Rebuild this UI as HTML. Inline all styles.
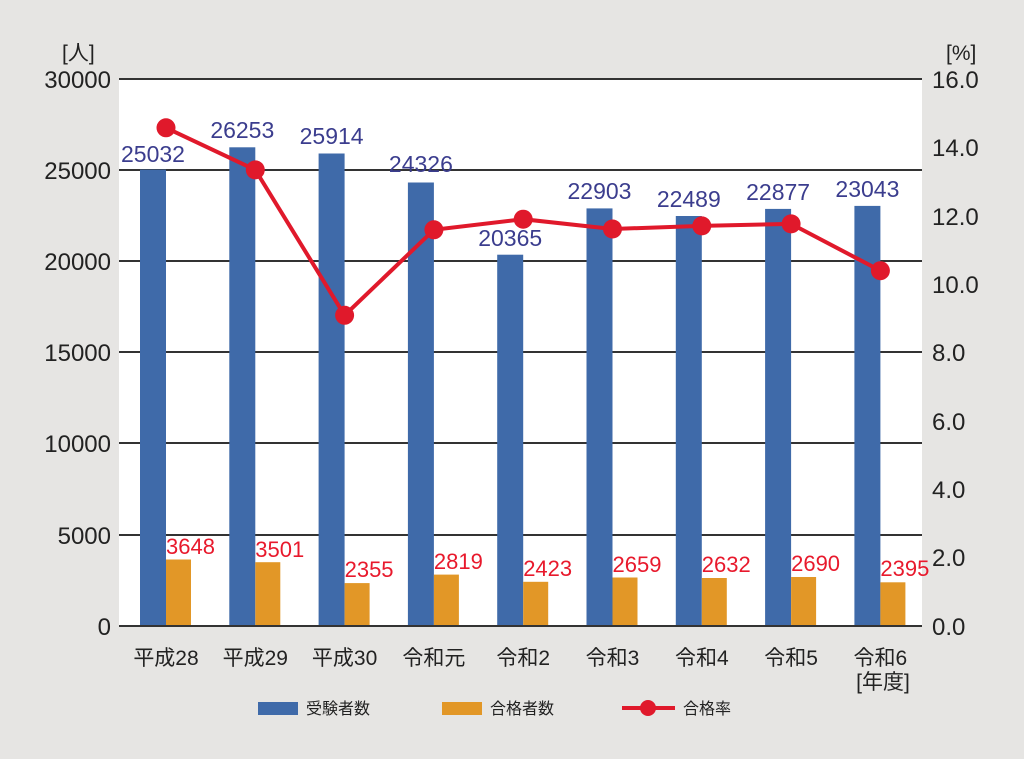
<!DOCTYPE html>
<html><head><meta charset="utf-8"><style>
html,body{margin:0;padding:0;background:#e6e5e3;}
svg{display:block;font-family:"Liberation Sans","Noto Sans CJK JP",sans-serif;}
</style></head><body>
<svg width="1024" height="759" viewBox="0 0 1024 759">
<rect width="1024" height="759" fill="#e6e5e3"/>
<rect x="119" y="79" width="803" height="547" fill="#fff"/>
<g stroke="#333" stroke-width="2">
<line x1="119" x2="922" y1="79" y2="79"/>
<line x1="119" x2="922" y1="170" y2="170"/>
<line x1="119" x2="922" y1="261" y2="261"/>
<line x1="119" x2="922" y1="352" y2="352"/>
<line x1="119" x2="922" y1="443" y2="443"/>
<line x1="119" x2="922" y1="535" y2="535"/>
</g>
<g fill="#3f6aa9">
<rect x="140" y="169.6" width="26" height="456.4"/>
<rect x="229.3" y="147.3" width="26" height="478.7"/>
<rect x="318.6" y="153.5" width="26" height="472.5"/>
<rect x="407.9" y="182.5" width="26" height="443.5"/>
<rect x="497.2" y="254.7" width="26" height="371.3"/>
<rect x="586.5" y="208.4" width="26" height="417.6"/>
<rect x="675.8" y="216" width="26" height="410"/>
<rect x="765.1" y="208.9" width="26" height="417.1"/>
<rect x="854.4" y="205.9" width="26" height="420.1"/>
</g>
<g fill="#e29727">
<rect x="166" y="559.5" width="25" height="66.5"/>
<rect x="255.3" y="562.2" width="25" height="63.8"/>
<rect x="344.6" y="583.1" width="25" height="42.9"/>
<rect x="433.9" y="574.6" width="25" height="51.4"/>
<rect x="523.2" y="581.8" width="25" height="44.2"/>
<rect x="612.5" y="577.5" width="25" height="48.5"/>
<rect x="701.8" y="578" width="25" height="48"/>
<rect x="791.1" y="577" width="25" height="49"/>
<rect x="880.4" y="582.3" width="25" height="43.7"/>
</g>
<line x1="119" x2="922" y1="626" y2="626" stroke="#333" stroke-width="2"/>
<g font-size="23" fill="#3b3d8e" text-anchor="middle">
<text x="153" y="162">25032</text>
<text x="242.3" y="138">26253</text>
<text x="331.6" y="144">25914</text>
<text x="420.9" y="172">24326</text>
<text x="510.2" y="246">20365</text>
<text x="599.5" y="199">22903</text>
<text x="688.8" y="207">22489</text>
<text x="778.1" y="200">22877</text>
<text x="867.4" y="197">23043</text>
</g>
<g font-size="22" fill="#e8192c">
<text x="166" y="554">3648</text>
<text x="255.3" y="557">3501</text>
<text x="344.6" y="577">2355</text>
<text x="433.9" y="569">2819</text>
<text x="523.2" y="576">2423</text>
<text x="612.5" y="572">2659</text>
<text x="701.8" y="572">2632</text>
<text x="791.1" y="571">2690</text>
<text x="880.4" y="576">2395</text>
</g>
<polyline fill="none" stroke="#e0192b" stroke-width="4" points="166,127.8 255.3,169.9 344.6,315.3 433.9,229.8 523.2,219.2 612.5,229 701.8,225.9 791.1,223.9 880.4,270.7"/>
<g fill="#e0192b">
<circle cx="166" cy="127.8" r="9.5"/><circle cx="255.3" cy="169.9" r="9.5"/><circle cx="344.6" cy="315.3" r="9.5"/>
<circle cx="433.9" cy="229.8" r="9.5"/><circle cx="523.2" cy="219.2" r="9.5"/><circle cx="612.5" cy="229" r="9.5"/>
<circle cx="701.8" cy="225.9" r="9.5"/><circle cx="791.1" cy="223.9" r="9.5"/><circle cx="880.4" cy="270.7" r="9.5"/>
</g>
<g font-size="24" fill="#222" text-anchor="end">
<text x="111" y="88">30000</text>
<text x="111" y="179">25000</text>
<text x="111" y="270">20000</text>
<text x="111" y="361">15000</text>
<text x="111" y="452">10000</text>
<text x="111" y="544">5000</text>
<text x="111" y="635">0</text>
</g>
<g font-size="24" fill="#222">
<text x="932" y="88">16.0</text>
<text x="932" y="156">14.0</text>
<text x="932" y="225">12.0</text>
<text x="932" y="293">10.0</text>
<text x="932" y="361">8.0</text>
<text x="932" y="430">6.0</text>
<text x="932" y="498">4.0</text>
<text x="932" y="566">2.0</text>
<text x="932" y="635">0.0</text>
<text x="946" y="60" font-size="21">[%]</text>
<text x="62" y="60" font-size="21">[人]</text>
</g>
<g font-size="21" fill="#222" text-anchor="middle">
<text x="166" y="665">平成28</text>
<text x="255.3" y="665">平成29</text>
<text x="344.6" y="665">平成30</text>
<text x="433.9" y="665">令和元</text>
<text x="523.2" y="665">令和2</text>
<text x="612.5" y="665">令和3</text>
<text x="701.8" y="665">令和4</text>
<text x="791.1" y="665">令和5</text>
<text x="880.4" y="665">令和6</text>
<text x="883" y="689">[年度]</text>
</g>
<rect x="258" y="702" width="40" height="13" fill="#3f6aa9"/>
<rect x="442" y="702" width="40" height="13" fill="#e29727"/>
<line x1="622" x2="675" y1="708" y2="708" stroke="#e0192b" stroke-width="4"/>
<circle cx="648" cy="708" r="8" fill="#e0192b"/>
<g font-size="16" fill="#222">
<text x="306" y="714">受験者数</text>
<text x="490" y="714">合格者数</text>
<text x="683" y="714">合格率</text>
</g>
</svg>
</body></html>
